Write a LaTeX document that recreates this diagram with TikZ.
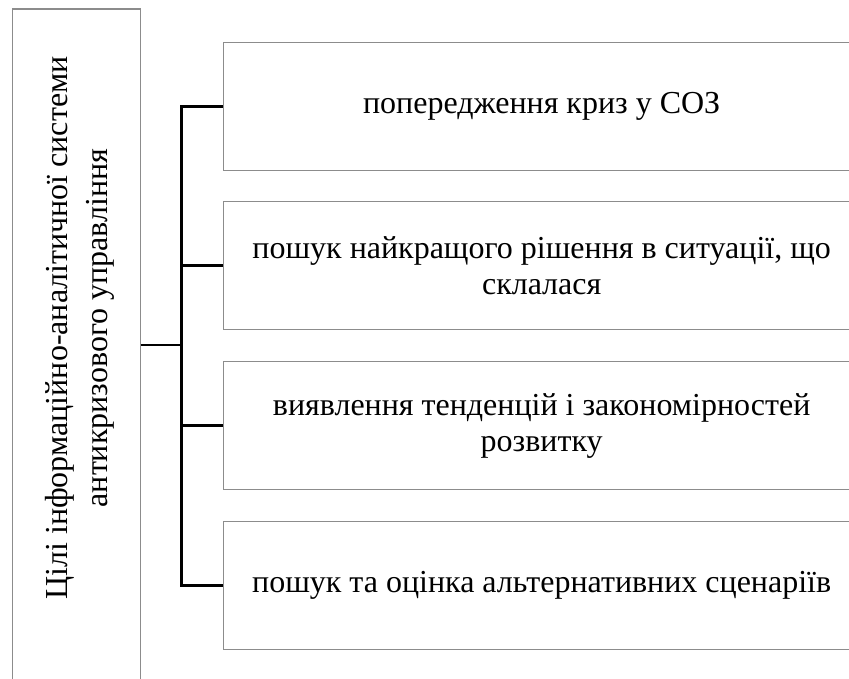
\documentclass[tikz,border=0pt]{standalone}
\usepackage{fontspec}
\setmainfont{Liberation Serif}
\begin{document}
\begin{tikzpicture}[x=1pt,y=-1pt,
  frame/.style={draw=black!45, line width=1.4pt, inner sep=0pt},
  goalbox/.style={frame, anchor=north west, minimum width=127.5pt, minimum height=700pt},
  aimbox/.style={frame, anchor=north west, minimum width=636pt, minimum height=128pt,
    align=center, font=\fontsize{32}{36}\selectfont},
  link/.style={draw=black, line width=2.8pt}]
\useasboundingbox (0,0) rectangle (849,679);
\fill[white] (0,0) rectangle (849,679);

% main goal column
\node[goalbox] (goal) at (12,8.5) {};
\node[rotate=90, align=center, font=\fontsize{32}{40}\selectfont, inner sep=0pt]
  (goaltext) at (80,328) {Цілі інформаційно-аналітичної системи\\антикризового управління};

% individual aims
\node[aimbox] (b1) at (223,42)  {попередження криз у СОЗ};
\node[aimbox] (b2) at (223,201) {пошук найкращого рішення в ситуації, що\\склалася};
\node[aimbox] (b3) at (223,361) {виявлення тенденцій і закономірностей\\розвитку};
\node[aimbox] (b4) at (223,521) {пошук та оцінка альтернативних сценаріїв};

% bracket connector
\coordinate (hub) at (181.5,345);
\draw[link] (hub -| goal.east) -- (hub);
\draw[link, line cap=rect] (b1.west -| hub) -- (b4.west -| hub);
\foreach \b in {b1,b2,b3,b4}
  \draw[link] (\b.west -| hub) -- (\b.west);
\end{tikzpicture}
\end{document}
